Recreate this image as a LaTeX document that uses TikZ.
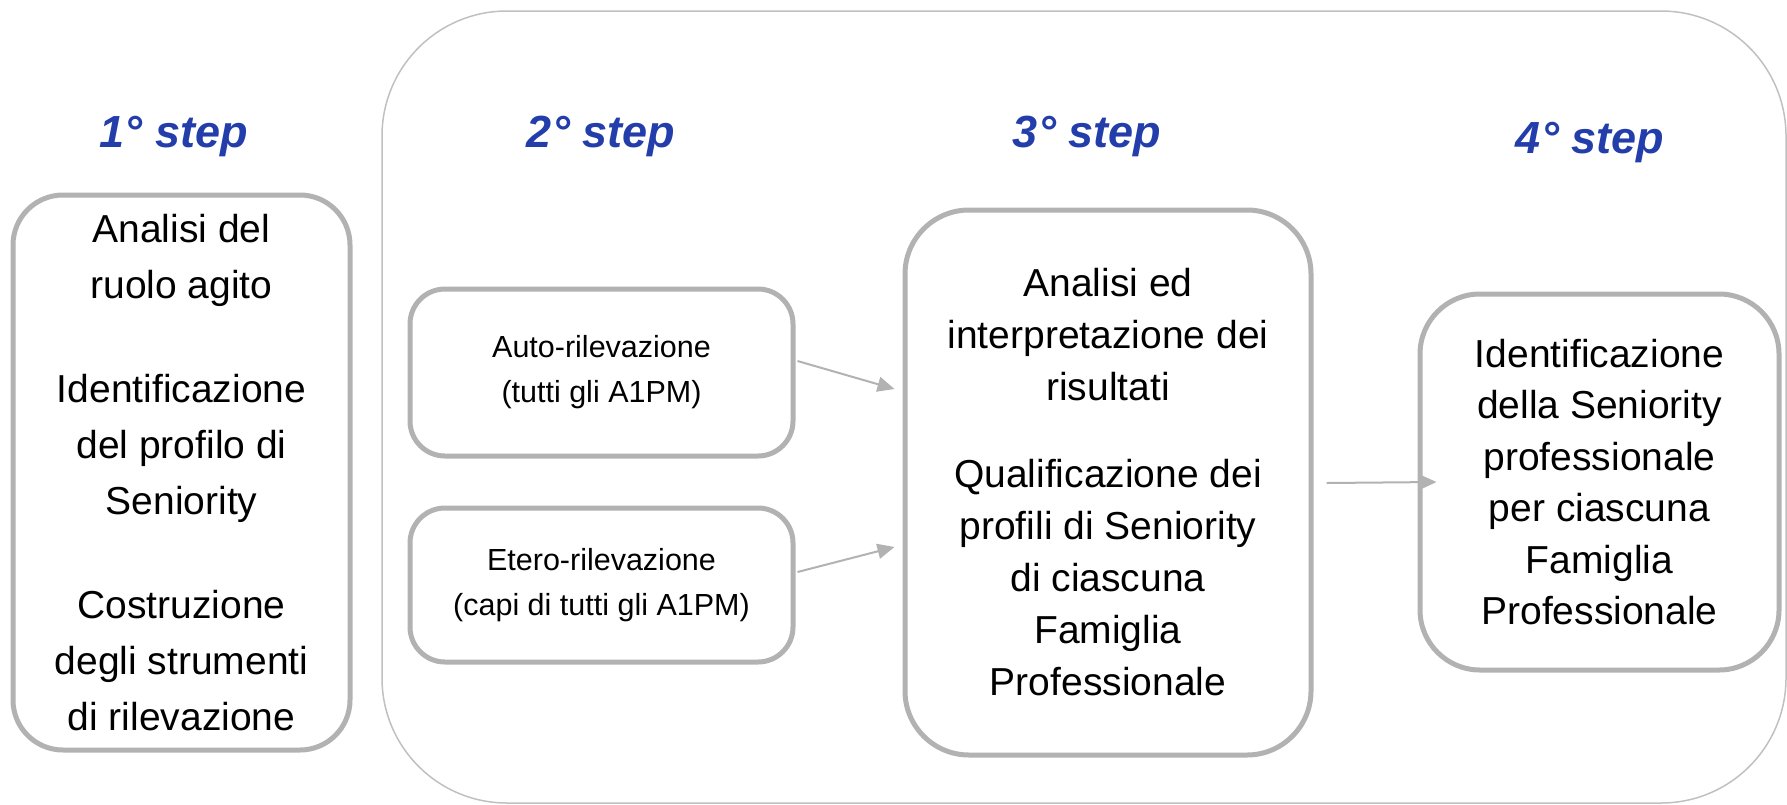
\documentclass[tikz,border=0pt]{standalone}
\usepackage{fontspec}
\setmainfont{Liberation Sans}
\usetikzlibrary{arrows.meta,calc}
\definecolor{boxgray}{RGB}{178,178,178}
\definecolor{outergray}{RGB}{192,192,192}
\definecolor{stepblue}{RGB}{35,62,170}
\begin{document}
\begin{tikzpicture}[x=0.5pt,y=-0.5pt,
  roundbox/.style={draw=boxgray, line width=2.5pt, align=center, inner sep=0pt, fill=white},
  bigtext/.style={font=\fontsize{19.5}{26}\selectfont},
  smalltext/.style={font=\fontsize{15.25}{22.5}\selectfont},
  steptitle/.style={anchor=base, text=stepblue, font=\fontsize{22.5}{27}\selectfont\bfseries\itshape},
  arr/.style={draw=boxgray, line width=1pt, -{Triangle[length=8.5pt,width=7.5pt]}}
]
\useasboundingbox (0,0) rectangle (1787,804);
\draw[outergray, line width=0.75pt, rounded corners=62.5pt] (382,11) rectangle (1786,803);

\node[steptitle] (s1) at (174,147) {1° step};
\node[steptitle] (s2) at (601,147) {2° step};
\node[steptitle] (s3) at (1087,147) {3° step};
\node[steptitle] (s4) at (1590,153) {4° step};

\node[roundbox, minimum width=168.5pt, minimum height=277.5pt, rounded corners=25pt,
      font=\fontsize{19.5}{28}\selectfont] (b1) at (181.5,472.5)
  {Analisi del\\ruolo agito\\[24pt]Identificazione\\del profilo di\\Seniority\\[24pt]Costruzione\\degli strumenti\\di rilevazione};

\node[roundbox, smalltext, minimum width=191.5pt, minimum height=83.5pt, rounded corners=17.5pt] (b2a) at (601.5,372.5)
  {Auto-rilevazione\\(tutti gli A1PM)};
\node[roundbox, smalltext, minimum width=191.5pt, minimum height=77pt, rounded corners=17.5pt] (b2b) at (601.5,585)
  {Etero-rilevazione\\(capi di tutti gli A1PM)};

\node[roundbox, bigtext, minimum width=203pt, minimum height=272.5pt, rounded corners=32pt] (b3) at (1108,482.5)
  {Analisi ed\\interpretazione dei\\risultati\\[17.5pt]Qualificazione dei\\profili di Seniority\\di ciascuna\\Famiglia\\Professionale};

\node[roundbox, minimum width=179.5pt, minimum height=188pt, rounded corners=30pt,
      font=\fontsize{19.5}{25.75}\selectfont] (b4) at (1599.5,482)
  {Identificazione\\della Seniority\\professionale\\per ciascuna\\Famiglia\\Professionale};

\draw[arr] ($(b2a.east)+(2,-11.5)$) -- ($(b3.west)+(-8,-93.5)$);
\draw[arr] ($(b2b.east)+(2,-13)$) -- ($(b3.west)+(-8,64.5)$);
\draw[arr] ($(b3.east)+(13,0.5)$) -- ($(b4.west)+(19,0)$);
\end{tikzpicture}
\end{document}
